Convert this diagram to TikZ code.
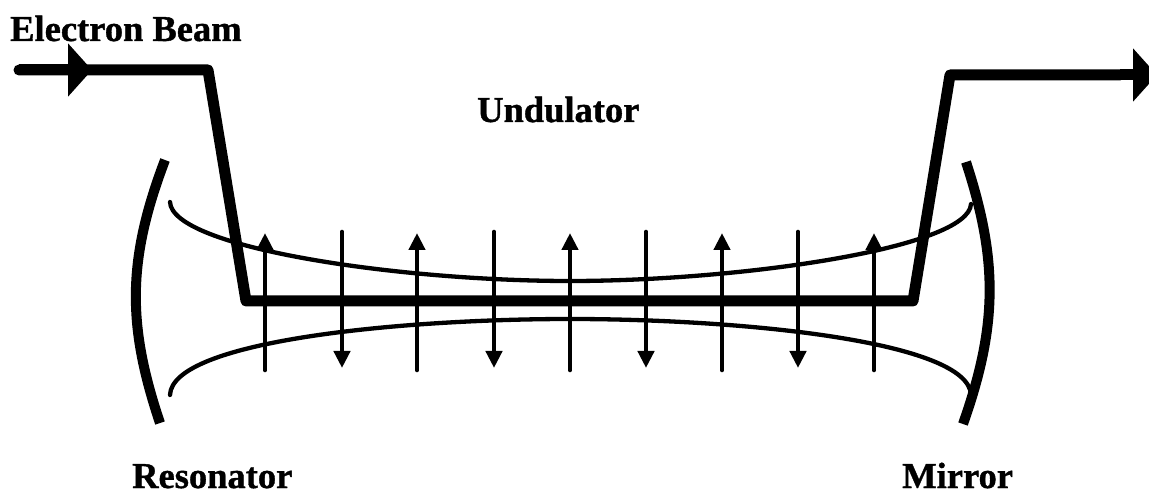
\documentclass[tikz,border=0pt]{standalone}
\usepackage{fontspec}
\setmainfont{Liberation Serif}[BoldFeatures={FakeBold=1.0}]
\usetikzlibrary{arrows.meta}

\begin{document}
\begin{tikzpicture}[
  x=1pt, y=-1pt,
  lbl/.style={font=\fontsize{36.5}{40}\selectfont\bfseries, inner sep=0pt, anchor=base west},
  beam/.style={line width=11pt, line join=round},
  beamtip/.style={line width=11pt, -{Triangle[length=24pt,width=52pt]}},
  mirror/.style={line width=10pt},
  wave/.style={line width=4.3pt, line cap=round},
  field/.style={line width=4.6pt, line cap=round, -{Triangle[length=17pt,width=16pt]}},
]
\useasboundingbox (0,0) rectangle (1149,494);

% labels
\node[lbl] (beamLabel) at (10,41) {Electron Beam};
\node[lbl] (undLabel) at (477,122) {Undulator};
\node[lbl] (resLabel) at (132,488) {Resonator};
\node[lbl] (mirLabel) at (902,488) {Mirror};

% electron beam
\coordinate (inStart) at (19,70);
\coordinate (inTip) at (92,70);
\coordinate (inKnee) at (208,70);
\coordinate (botLeft) at (246,301);
\coordinate (botRight) at (913,301);
\coordinate (outKnee) at (950,75);
\coordinate (outMid) at (1120,75);
\coordinate (outEnd) at (1157,75);
\draw[beam, line cap=round] (inStart) -- (inKnee) -- (botLeft) -- (botRight) -- (outKnee) -- (outMid);
\draw[beamtip] (inStart) -- (inTip);
\draw[beamtip] (outMid) -- (outEnd);

% resonator mirrors
\draw[mirror] (165,160) .. controls (127,260) and (127,325) .. (160,423);
\draw[mirror] (966,162) .. controls (998,260) and (998,325) .. (963,424);

% radiation envelope
\draw[wave] (170,202) .. controls (172,248) and (400,281) .. (570,281) .. controls (740,281) and (969,248) .. (971,204);
\draw[wave] (170,395) .. controls (172,341) and (400,319) .. (570,319) .. controls (740,319) and (969,341) .. (971,395);

% field arrows
\foreach \px in {265,417,570,722,874} {
  \coordinate (fieldA\px) at (\px,370);
  \coordinate (fieldB\px) at (\px,233);
  \draw[field] (fieldA\px) -- (fieldB\px);
}
\foreach \px in {342,494,646,798} {
  \coordinate (fieldA\px) at (\px,232);
  \coordinate (fieldB\px) at (\px,368);
  \draw[field] (fieldA\px) -- (fieldB\px);
}
\end{tikzpicture}
\end{document}
